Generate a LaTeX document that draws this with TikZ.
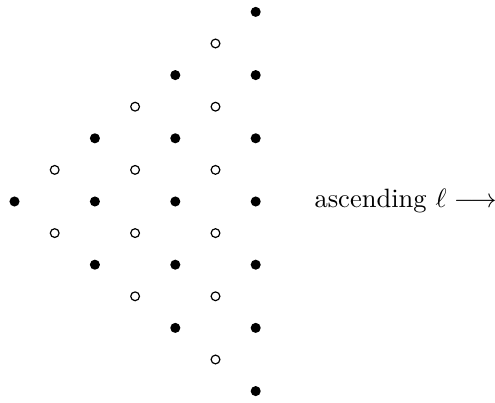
\documentclass[tikz,border=0pt]{standalone}
\usepackage{amsmath, amssymb}
\begin{document}
\begin{tikzpicture}[x=0.377pt, y=-0.377pt,
    fdot/.style={circle, fill, inner sep=0pt, minimum size=3.8pt},
    odot/.style={circle, draw, line width=0.45pt, inner sep=0pt, minimum size=3.3pt}]
        \useasboundingbox (0,0) rectangle (495,403);
        % Diamond of weights: filled on even columns, open on odd ones
        \foreach \c in {0,...,6}
          \foreach \k in {0,...,\c} {
            \pgfmathtruncatemacro{\r}{6-\c+2*\k}
            \ifodd\c
              \node[odot] (p-\c-\r) at ({14.5+40.2*\c},{201.5+31.6*(\r-6)}) {};
            \else
              \node[fdot] (p-\c-\r) at ({14.5+40.2*\c},{201.5+31.6*(\r-6)}) {};
            \fi
          }
        % Label to the right
        \node[anchor=base west, inner sep=0pt] (lbl) at (314,208) {ascending $\ell \longrightarrow$};
      \end{tikzpicture}
\end{document}
